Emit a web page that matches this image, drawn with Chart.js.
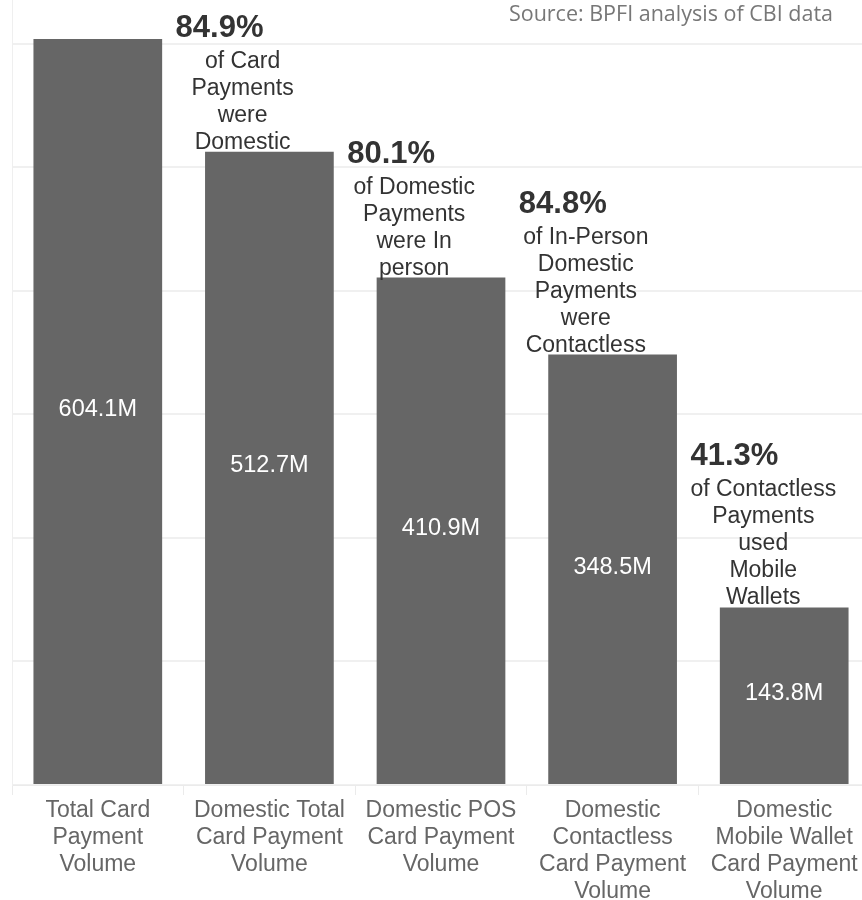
<!DOCTYPE html>
<html lang="en">
<head>
    <meta charset="UTF-8">
    <title>Card Payment Volume</title>
    <script src="https://cdn.jsdelivr.net/npm/chart.js"></script>
    <style>
        html, body { margin: 0; padding: 0; background: #fff; overflow: hidden; }
        #wrap { width: 862px; height: 900px; overflow: hidden; }
    </style>
</head>
<body>
    <div id="wrap">
        <canvas id="volumeChart" width="870" height="900"></canvas>
    </div>

    <script>
        // bar categories (one entry per line of the axis label)
        const categories = [
            ['Total Card', 'Payment', 'Volume'],
            ['Domestic Total', 'Card Payment', 'Volume'],
            ['Domestic POS', 'Card Payment', 'Volume'],
            ['Domestic', 'Contactless', 'Card Payment', 'Volume'],
            ['Domestic', 'Mobile Wallet', 'Card Payment', 'Volume']
        ];
        // payment volume, millions
        const volumes = [604.1, 512.7, 410.9, 348.5, 143.8];
        // share of each bar carried into the next one
        const sharePct = ['84.9%', '80.1%', '84.8%', '41.3%'];
        const shareText = [
            ['of Card', 'Payments', 'were', 'Domestic'],
            ['of Domestic', 'Payments', 'were In', 'person'],
            ['of In-Person', 'Domestic', 'Payments', 'were', 'Contactless'],
            ['of Contactless', 'Payments', 'used', 'Mobile', 'Wallets']
        ];
        const yMax = 635.6;
        const yStep = 100;
        const sourceNote = 'Source: BPFI analysis of CBI data';

        const FONT = "'Liberation Sans', Arial, sans-serif";

        const labelsPlugin = {
            id: 'labels',
            afterDatasetsDraw(chart) {
                const ctx = chart.ctx;
                const xs = chart.scales.x;
                const ys = chart.scales.y;
                const bars = chart.getDatasetMeta(0).data;
                ctx.save();

                // values inside the bars
                ctx.fillStyle = '#ffffff';
                ctx.font = '23.5px ' + FONT;
                ctx.textAlign = 'center';
                ctx.textBaseline = 'middle';
                bars.forEach((bar, i) => {
                    const mid = (bar.y + bar.base) / 2;
                    ctx.fillText(volumes[i].toFixed(1) + 'M', bar.x, mid - 2);
                });

                // share annotations sitting on top of the next bar
                const lh = 27;
                sharePct.forEach((pct, i) => {
                    const edge = (xs.getPixelForValue(i) + xs.getPixelForValue(i + 1)) / 2;
                    const left = edge - 8;
                    const lines = shareText[i];
                    ctx.font = '23px ' + FONT;
                    let widest = 0;
                    lines.forEach(l => { widest = Math.max(widest, ctx.measureText(l).width); });
                    const cx = left + Math.max(widest / 2, 67);
                    const last = ys.getPixelForValue(volumes[i + 1]) - 3;
                    const first = last - (lines.length - 1) * lh;

                    ctx.fillStyle = '#333333';
                    ctx.textBaseline = 'alphabetic';
                    ctx.textAlign = 'center';
                    lines.forEach((l, k) => ctx.fillText(l, cx, first + k * lh));

                    ctx.font = 'bold 31px ' + FONT;
                    ctx.textAlign = 'left';
                    ctx.fillText(pct, left, first - 31);
                });

                // source note, top right
                ctx.font = "21.5px 'Open Sans', sans-serif";
                ctx.fillStyle = '#777777';
                ctx.textAlign = 'right';
                ctx.textBaseline = 'alphabetic';
                ctx.fillText(sourceNote, 833, 21);
                ctx.restore();
            }
        };

        new Chart(document.getElementById('volumeChart'), {
            type: 'bar',
            data: {
                labels: categories,
                datasets: [{
                    data: volumes,
                    backgroundColor: '#666666',
                    barPercentage: 0.75,
                    categoryPercentage: 1.0
                }]
            },
            options: {
                responsive: false,
                animation: false,
                layout: { padding: 0 },
                plugins: {
                    legend: { display: false },
                    tooltip: { enabled: false }
                },
                scales: {
                    x: {
                        offset: true,
                        grid: {
                            offset: true,
                            drawOnChartArea: false,
                            drawTicks: true,
                            tickLength: 10,
                            color: '#ebebeb'
                        },
                        border: { display: true, color: '#ebebeb' },
                        ticks: {
                            color: '#666666',
                            font: { family: FONT, size: 23, lineHeight: 27 / 23 },
                            padding: 2,
                            maxRotation: 0,
                            autoSkip: false
                        },
                        afterFit(scale) { scale.height = 115; }
                    },
                    y: {
                        min: 0,
                        max: yMax,
                        ticks: { display: false, stepSize: yStep, includeBounds: false },
                        grid: { color: '#f0f0f0', lineWidth: 2, drawTicks: false },
                        border: { display: true, color: '#efefef', width: 1 },
                        afterFit(scale) { scale.width = 12; }
                    }
                }
            },
            plugins: [labelsPlugin]
        });
    </script>
</body>
</html>
